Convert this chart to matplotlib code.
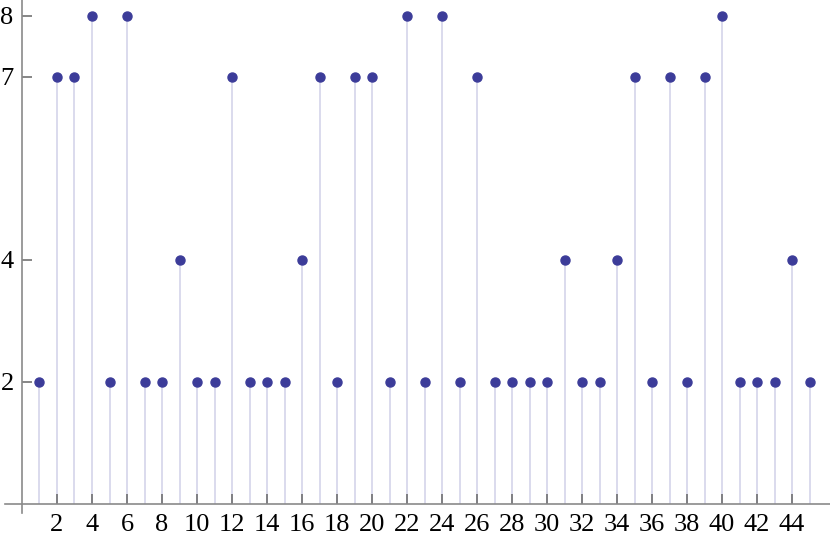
import matplotlib
matplotlib.use("agg")
import matplotlib.pyplot as plt

# sequence values, n = 1..45
n_values = list(range(1, 46))
counts = [2, 7, 7, 8, 2, 8, 2, 2, 4, 2, 2, 7, 2, 2, 2, 4, 7, 2, 7, 7,
          2, 8, 2, 8, 2, 7, 2, 2, 2, 2, 4, 2, 2, 4, 7, 2, 7, 2, 7, 8,
          2, 2, 2, 4, 2]
x_ticks = list(range(2, 46, 2))
y_ticks = [2, 4, 7, 8]

POINT = "#3c3c99"
STEM = "#d8d8ec"
AXIS = "#8a8a8a"

plt.rcParams["font.family"] = ["Liberation Serif", "DejaVu Serif"]

fig = plt.figure(figsize=(8.3, 5.42), dpi=100)
ax = fig.add_axes([0, 0, 1, 1])
ax.set_xlim(-1.257, 46.17)
ax.set_ylim(-0.623, 8.262)
ax.patch.set_alpha(0)

ax.vlines(n_values, 0, counts, color=STEM, lw=1.3, zorder=1)
ax.plot(n_values, counts, "o", color=POINT, ms=6.5, zorder=3)

for side in ("top", "right"):
    ax.spines[side].set_visible(False)
ax.spines["left"].set_position(("data", 0))
ax.spines["bottom"].set_position(("data", 0))
ax.spines["left"].set_bounds(-0.15, 8.262)
ax.spines["bottom"].set_bounds(-0.97, 46.17)
for side in ("left", "bottom"):
    ax.spines[side].set_color(AXIS)
    ax.spines[side].set_linewidth(1.2)

ax.set_xticks(x_ticks)
ax.set_yticks(y_ticks)
ax.tick_params(direction="in", length=7, width=1.1, color="#666666",
               labelsize=19)
ax.tick_params(axis="x", pad=7)
ax.tick_params(axis="y", pad=6)

fig.savefig("out.png", dpi=100)
